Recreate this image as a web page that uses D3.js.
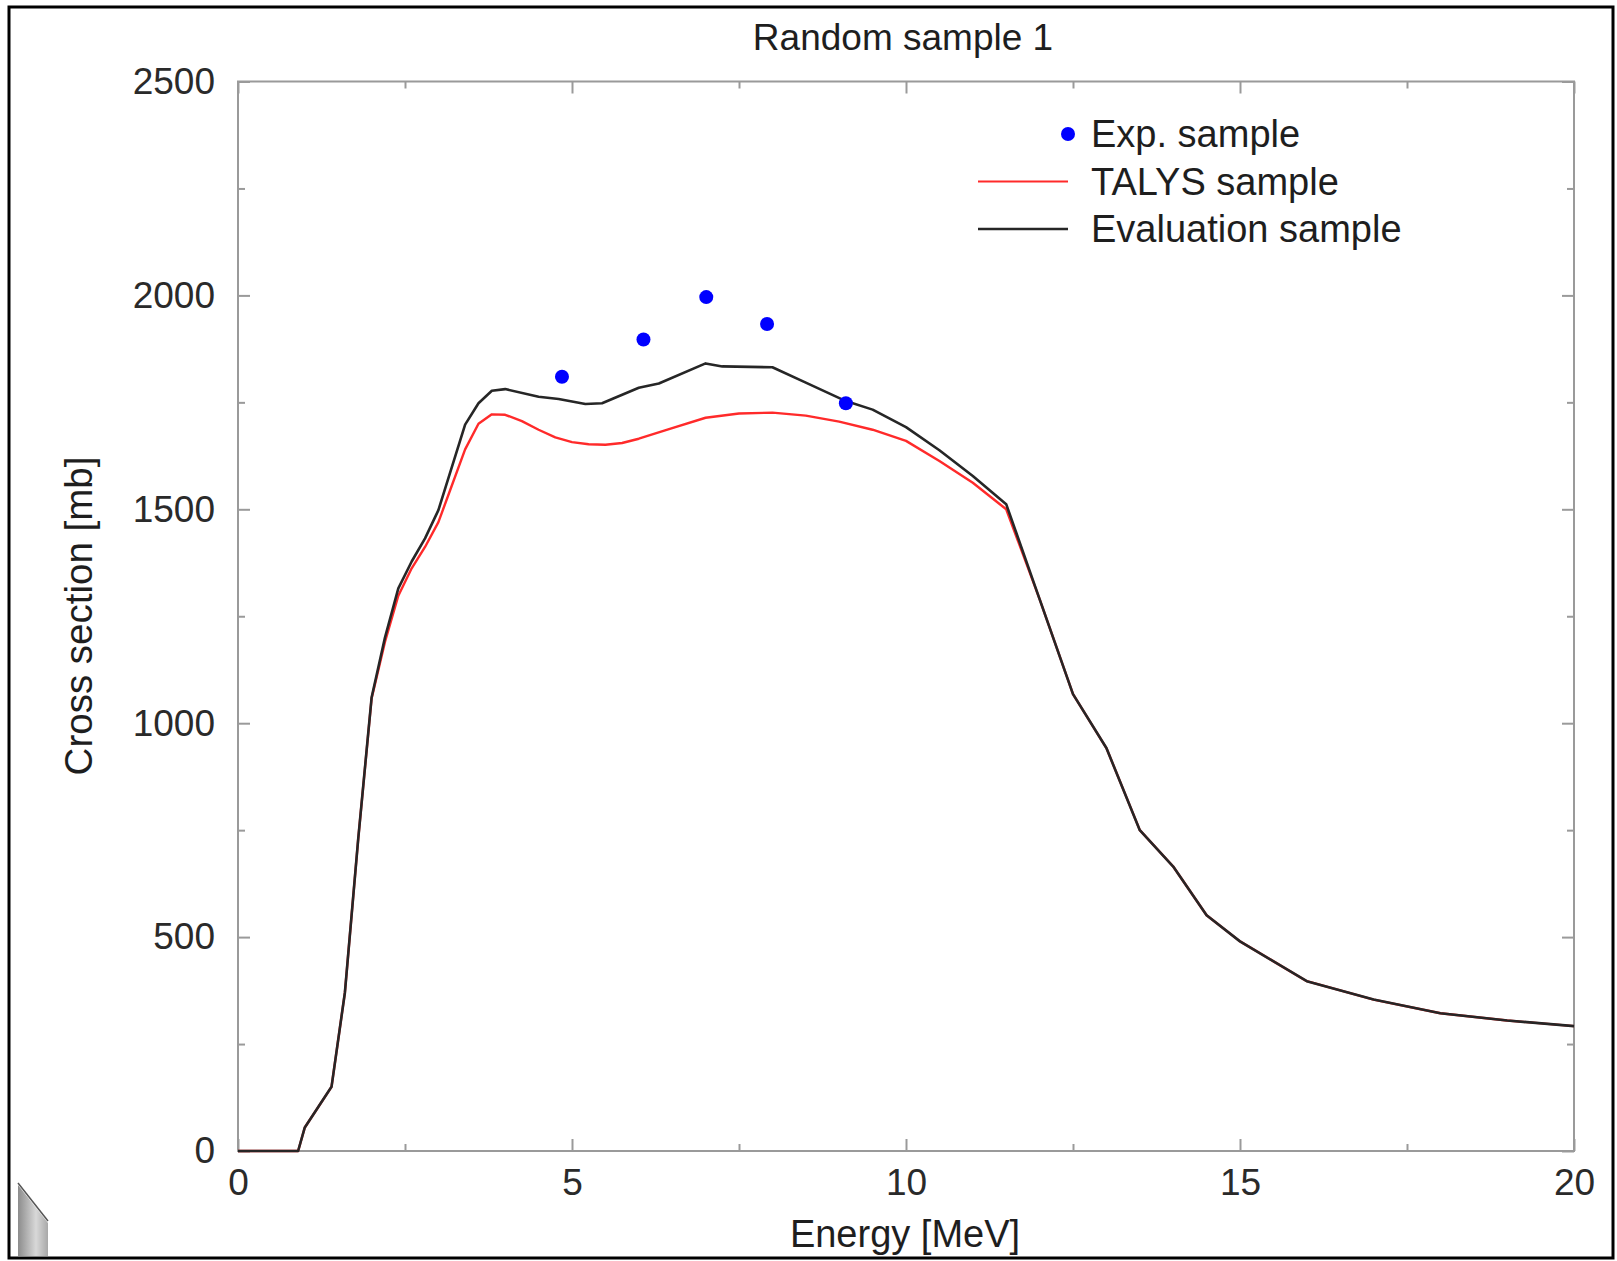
<!DOCTYPE html>
<html>
<head>
<meta charset="utf-8">
<title>Random sample 1</title>
<script src="https://cdn.jsdelivr.net/npm/d3@7"></script>
<style>
  html, body { margin: 0; padding: 0; background: #fff; }
  svg { display: block; }
</style>
</head>
<body>
<div id="chart"></div>
<script>
// energy grid (MeV) and cross sections (mb)
const evalEnergy = [0, 0.9, 1.0, 1.4, 1.6, 1.8, 2.0, 2.2, 2.4, 2.6, 2.8, 3.0, 3.4, 3.6, 3.8, 4.0,
  4.5, 4.8, 5.2, 5.45, 6.0, 6.3, 7.0, 7.25, 8.0, 8.5, 9.1, 9.5, 10.0, 10.5, 11.0, 11.5,
  12.0, 12.5, 13.0, 13.5, 14.0, 14.5, 15.0, 16.0, 17.0, 18.0, 19.0, 20.0];
const evalXS = [0, 0, 55, 150, 370, 730, 1060, 1200, 1315, 1378, 1432, 1498, 1698, 1748, 1777, 1781,
  1763, 1758, 1746, 1748, 1784, 1794, 1841, 1834, 1832, 1796, 1753, 1733, 1692, 1638, 1578, 1512,
  1290, 1068, 942, 750, 665, 551, 490, 397, 354, 322, 305, 292];

const talysEnergy = [0, 0.9, 1.0, 1.4, 1.6, 1.8, 2.0, 2.2, 2.4, 2.6, 2.8, 3.0, 3.2, 3.4, 3.6, 3.8, 4.0,
  4.25, 4.5, 4.75, 5.0, 5.25, 5.5, 5.75, 6.0, 6.5, 7.0, 7.5, 8.0, 8.5, 9.0, 9.5, 10.0, 10.5, 11.0, 11.5,
  12.0, 12.5, 13.0, 13.5, 14.0, 14.5, 15.0, 16.0, 17.0, 18.0, 19.0, 20.0];
const talysXS = [0, 0, 55, 150, 370, 730, 1058, 1190, 1298, 1362, 1412, 1470, 1555, 1640, 1700, 1722, 1721,
  1706, 1686, 1668, 1657, 1652, 1651, 1655, 1665, 1690, 1714, 1724, 1726, 1719, 1705, 1686, 1660, 1613, 1562, 1500,
  1290, 1068, 942, 750, 665, 551, 490, 397, 354, 322, 305, 292];

const expEnergy = [4.85, 6.07, 7.01, 7.92, 9.1];
const expXS = [1810, 1897, 1996, 1933, 1748];

const xMajor = [0, 5, 10, 15, 20];
const xMinor = [2.5, 7.5, 12.5, 17.5];
const yMajor = [0, 500, 1000, 1500, 2000, 2500];
const yMinor = [250, 750, 1250, 1750, 2250];

const legendLabels = ["Exp. sample", "TALYS sample", "Evaluation sample"];

(function () {
  const width = 1617, height = 1261;
  const left = 238, right = 1574, top = 81.5, bottom = 1151;
  const font = "'Liberation Sans', Arial, Helvetica, sans-serif";
  const axisColor = "#9a9a9a";

  const svg = d3.select("#chart").append("svg")
    .attr("width", width)
    .attr("height", height)
    .attr("font-family", font);

  const x = d3.scaleLinear([0, 20], [left, right]);
  const y = d3.scaleLinear([0, 2500], [bottom, top]);

  // outer frame of the screenshot
  svg.append("rect")
    .attr("x", 9).attr("y", 7)
    .attr("width", 1604).attr("height", 1251)
    .attr("fill", "none")
    .attr("stroke", "#000")
    .attr("stroke-width", 3);

  // little page-curl thing in the bottom-left corner
  const grad = svg.append("defs").append("linearGradient")
    .attr("id", "curl").attr("x1", 0).attr("y1", 0).attr("x2", 1).attr("y2", 0);
  grad.append("stop").attr("offset", "0%").attr("stop-color", "#8c8c8c");
  grad.append("stop").attr("offset", "60%").attr("stop-color", "#d8d8d8");
  grad.append("stop").attr("offset", "100%").attr("stop-color", "#a8a8a8");
  svg.append("path")
    .attr("d", "M18,1185 L48,1223 L48,1256 L18,1256 Z")
    .attr("fill", "url(#curl)");
  svg.append("path")
    .attr("d", "M18,1183 L48,1221")
    .attr("stroke", "#555").attr("stroke-width", 1.5);

  // axes: majors labelled on bottom/left, everything mirrored inward
  function styleAxis(g) {
    g.select(".domain").remove();
    g.selectAll(".tick line").attr("stroke", axisColor).attr("stroke-width", 2);
    g.selectAll(".tick text").attr("fill", "#2a2a2a").attr("font-size", 37).attr("font-family", font);
  }

  svg.append("g").attr("transform", `translate(0,${bottom})`)
    .call(d3.axisBottom(x).tickValues(xMajor).tickSize(-12).tickPadding(18).tickFormat(d3.format("d")))
    .call(styleAxis);
  svg.append("g").attr("transform", `translate(0,${bottom})`)
    .call(d3.axisBottom(x).tickValues(xMinor).tickSize(-7).tickFormat(""))
    .call(styleAxis);
  svg.append("g").attr("transform", `translate(0,${top})`)
    .call(d3.axisTop(x).tickValues(xMajor).tickSize(-12).tickFormat(""))
    .call(styleAxis);
  svg.append("g").attr("transform", `translate(0,${top})`)
    .call(d3.axisTop(x).tickValues(xMinor).tickSize(-7).tickFormat(""))
    .call(styleAxis);

  svg.append("g").attr("transform", `translate(${left},0)`)
    .call(d3.axisLeft(y).tickValues(yMajor).tickSize(-12).tickPadding(23).tickFormat(d3.format("d")))
    .call(styleAxis);
  svg.append("g").attr("transform", `translate(${left},0)`)
    .call(d3.axisLeft(y).tickValues(yMinor).tickSize(-7).tickFormat(""))
    .call(styleAxis);
  svg.append("g").attr("transform", `translate(${right},0)`)
    .call(d3.axisRight(y).tickValues(yMajor).tickSize(-12).tickFormat(""))
    .call(styleAxis);
  svg.append("g").attr("transform", `translate(${right},0)`)
    .call(d3.axisRight(y).tickValues(yMinor).tickSize(-7).tickFormat(""))
    .call(styleAxis);

  // plot box
  svg.append("rect")
    .attr("x", left).attr("y", top)
    .attr("width", right - left).attr("height", bottom - top)
    .attr("fill", "none")
    .attr("stroke", axisColor)
    .attr("stroke-width", 2);

  // curves
  const line = d3.line().x(d => x(d[0])).y(d => y(d[1]));
  const talys = d3.zip(talysEnergy, talysXS);
  const evaluation = d3.zip(evalEnergy, evalXS);

  svg.append("path")
    .datum(talys)
    .attr("d", line)
    .attr("fill", "none")
    .attr("stroke", "#ff2a2a")
    .attr("stroke-width", 2.4)
    .attr("stroke-linejoin", "round");

  svg.append("path")
    .datum(evaluation)
    .attr("d", line)
    .attr("fill", "none")
    .attr("stroke", "#262626")
    .attr("stroke-width", 2.6)
    .attr("stroke-linejoin", "round");

  svg.append("g")
    .selectAll("circle")
    .data(d3.zip(expEnergy, expXS))
    .join("circle")
    .attr("cx", d => x(d[0]))
    .attr("cy", d => y(d[1]))
    .attr("r", 7)
    .attr("fill", "#0000ff");

  // legend
  const legend = svg.append("g").attr("font-size", 38).attr("fill", "#1e1e1e");
  const rowY = [134, 181.5, 229];
  legend.append("circle").attr("cx", 1068).attr("cy", rowY[0]).attr("r", 7).attr("fill", "#0000ff");
  legend.append("line").attr("x1", 978).attr("x2", 1068).attr("y1", rowY[1]).attr("y2", rowY[1])
    .attr("stroke", "#ff2a2a").attr("stroke-width", 2);
  legend.append("line").attr("x1", 978).attr("x2", 1068).attr("y1", rowY[2]).attr("y2", rowY[2])
    .attr("stroke", "#262626").attr("stroke-width", 2.4);
  legend.selectAll("text")
    .data(legendLabels)
    .join("text")
    .attr("x", 1091)
    .attr("y", (d, i) => rowY[i] + 13)
    .text(d => d);

  // titles
  svg.append("text")
    .attr("x", 903).attr("y", 50)
    .attr("text-anchor", "middle")
    .attr("font-size", 37)
    .attr("fill", "#1e1e1e")
    .text("Random sample 1");

  svg.append("text")
    .attr("x", 905).attr("y", 1247)
    .attr("text-anchor", "middle")
    .attr("font-size", 38)
    .attr("fill", "#1e1e1e")
    .text("Energy [MeV]");

  svg.append("text")
    .attr("transform", "translate(92,616) rotate(-90)")
    .attr("text-anchor", "middle")
    .attr("font-size", 38.5)
    .attr("fill", "#1e1e1e")
    .text("Cross section [mb]");
})();
</script>
</body>
</html>
